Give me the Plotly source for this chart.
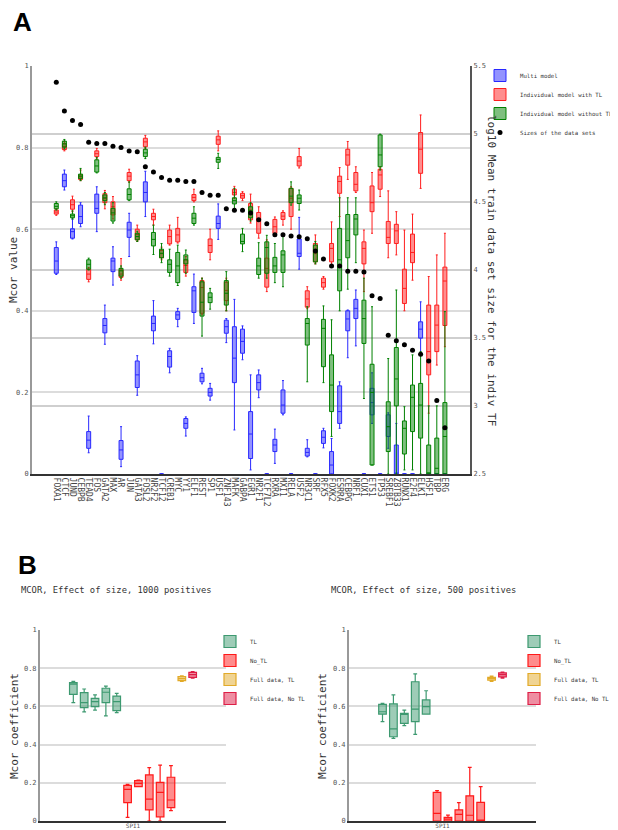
import plotly.graph_objects as go

# The page body adds an 8px margin, so the figure is sized to the visible area
OFF = 8
W, H = 618 - OFF, 830 - OFF
MONO = "DejaVu Sans Mono"

# ---------------- Panel A data ----------------
categories = ["FOXA1", "CTCF", "JUND", "CEBPB", "TEAD4", "FOS", "GATA2", "MAX", "AR", "JUN",
              "GATA3", "FOSL2", "NR2F2", "TCF12", "CREB1", "MYC", "YY1", "ELF1", "REST", "SP1",
              "USF1", "ZNF143", "MAFK", "GABPA", "EGR1", "NR2F1", "TCF7L2", "RXRA", "MXI1", "RELA",
              "USF2", "NR3C1", "SRF", "RFX5", "FOXK2", "ESRRA", "CEBPG", "NRF1", "CUX1", "ETS1",
              "TP53", "SREBF1", "ZBTB33", "RUNX1", "E2F4", "ELK1", "HSF1", "TBP", "ERG"]

# (lower whisker, q1, median, q3, upper whisker) per category
multi_stats = [
    (0.489, 0.492, 0.522, 0.555, 0.569), (0.696, 0.704, 0.719, 0.735, 0.745), (0.576, 0.578, 0.594, 0.601, 0.625),
    (0.606, 0.614, 0.631, 0.659, 0.665), (0.052, 0.063, 0.083, 0.104, 0.142), (0.594, 0.639, 0.651, 0.686, 0.704),
    (0.318, 0.346, 0.364, 0.381, 0.414), (0.463, 0.496, 0.522, 0.529, 0.557), (0.018, 0.036, 0.059, 0.082, 0.116),
    (0.533, 0.580, 0.598, 0.617, 0.639), (0.193, 0.212, 0.243, 0.277, 0.290), (0.631, 0.667, 0.690, 0.716, 0.742),
    (0.319, 0.351, 0.369, 0.387, 0.425), (0, 0, 0, 0, 0), (0.248, 0.262, 0.288, 0.302, 0.308),
    (0.361, 0.379, 0.390, 0.398, 0.406), (0.093, 0.112, 0.124, 0.136, 0.140), (0.369, 0.396, 0.449, 0.459, 0.490),
    (0.221, 0.226, 0.236, 0.247, 0.259), (0.181, 0.191, 0.200, 0.210, 0.222), (0.575, 0.602, 0.614, 0.632, 0.662),
    (0.322, 0.345, 0.361, 0.377, 0.381), (0.108, 0.224, 0.284, 0.361, 0.428), (0.280, 0.296, 0.325, 0.355, 0.363),
    (0.010, 0.038, 0.098, 0.153, 0.243), (0.187, 0.206, 0.224, 0.243, 0.255), (0, 0, 0, 0, 0),
    (0.026, 0.055, 0.071, 0.085, 0.110), (0.145, 0.149, 0.169, 0.206, 0.229), (0, 0, 0, 0, 0),
    (0.502, 0.533, 0.541, 0.576, 0.629), (0.042, 0.044, 0.053, 0.063, 0.084), (0, 0, 0, 0, 0),
    (0.064, 0.075, 0.090, 0.106, 0.112), (0, 0, 0.022, 0.055, 0.087), (0.112, 0.124, 0.153, 0.216, 0.226),
    (0.285, 0.351, 0.380, 0.400, 0.402), (0.314, 0.381, 0.406, 0.428, 0.451), (0, 0, 0, 0, 0),
    (0.124, 0.145, 0.175, 0.210, 0.248), (0, 0, 0, 0, 0), (0.063, 0.092, 0.116, 0.145, 0.150),
    (0, 0, 0, 0.071, 0.124), (0, 0, 0, 0, 0), (0, 0, 0, 0, 0),
    (0.296, 0.333, 0.355, 0.373, 0.422), (0, 0, 0, 0, 0), (0, 0, 0, 0, 0), (0, 0, 0, 0, 0),
]

with_tl_stats = [
    (0.634, 0.637, 0.642, 0.647, 0.650), (0.792, 0.795, 0.803, 0.810, 0.815), (0.643, 0.649, 0.660, 0.672, 0.681),
    (0.719, 0.722, 0.728, 0.733, 0.745), (0.471, 0.477, 0.490, 0.502, 0.506), (0.772, 0.778, 0.785, 0.792, 0.798),
    (0.650, 0.665, 0.675, 0.687, 0.695), (0.625, 0.635, 0.655, 0.667, 0.680), (0.475, 0.482, 0.490, 0.500, 0.528),
    (0.715, 0.719, 0.730, 0.739, 0.747), (0.570, 0.574, 0.587, 0.600, 0.610), (0.797, 0.802, 0.814, 0.823, 0.830),
    (0.610, 0.623, 0.631, 0.639, 0.649), (0.525, 0.530, 0.540, 0.548, 0.556), (0.561, 0.564, 0.582, 0.598, 0.610),
    (0.566, 0.569, 0.586, 0.602, 0.629), (0.485, 0.494, 0.511, 0.525, 0.533), (0.667, 0.670, 0.678, 0.685, 0.698),
    (0.390, 0.394, 0.457, 0.474, 0.480), (0.525, 0.543, 0.560, 0.576, 0.600), (0.792, 0.808, 0.819, 0.828, 0.841),
    (0.400, 0.425, 0.450, 0.470, 0.480), (0.675, 0.684, 0.690, 0.698, 0.705), (0.670, 0.676, 0.682, 0.688, 0.692),
    (0.615, 0.623, 0.647, 0.663, 0.686), (0.578, 0.590, 0.624, 0.641, 0.655), (0.447, 0.458, 0.504, 0.529, 0.574),
    (0.585, 0.590, 0.606, 0.624, 0.630), (0.610, 0.624, 0.632, 0.641, 0.645), (0.600, 0.631, 0.676, 0.700, 0.704),
    (0.750, 0.755, 0.767, 0.778, 0.798), (0.405, 0.409, 0.429, 0.449, 0.459), (0.515, 0.520, 0.540, 0.565, 0.586),
    (0.453, 0.458, 0.469, 0.480, 0.484), (0.510, 0.520, 0.553, 0.565, 0.618), (0.631, 0.688, 0.717, 0.730, 0.751),
    (0.722, 0.757, 0.782, 0.796, 0.815), (0.690, 0.694, 0.710, 0.739, 0.753), (0.447, 0.515, 0.553, 0.569, 0.598),
    (0.590, 0.643, 0.665, 0.706, 0.739), (0.680, 0.698, 0.733, 0.747, 0.753), (0.530, 0.565, 0.580, 0.619, 0.694),
    (0.537, 0.565, 0.596, 0.612, 0.643), (0.400, 0.418, 0.455, 0.502, 0.598), (0.475, 0.518, 0.543, 0.588, 0.637),
    (0.700, 0.737, 0.796, 0.837, 0.880), (0.149, 0.243, 0.300, 0.414, 0.484), (0.267, 0.300, 0.365, 0.414, 0.537),
    (0.312, 0.364, 0.473, 0.507, 0.590),
]

without_tl_stats = [
    (0.647, 0.650, 0.656, 0.663, 0.667), (0.797, 0.801, 0.809, 0.816, 0.820), (0.625, 0.628, 0.633, 0.637, 0.645),
    (0.719, 0.724, 0.730, 0.735, 0.749), (0.500, 0.502, 0.514, 0.525, 0.529), (0.738, 0.740, 0.755, 0.770, 0.776),
    (0.660, 0.670, 0.677, 0.684, 0.690), (0.615, 0.620, 0.640, 0.651, 0.665), (0.480, 0.485, 0.498, 0.504, 0.510),
    (0.670, 0.672, 0.685, 0.699, 0.716), (0.570, 0.574, 0.582, 0.590, 0.595), (0.773, 0.778, 0.787, 0.796, 0.801),
    (0.538, 0.559, 0.575, 0.592, 0.610), (0.518, 0.530, 0.541, 0.551, 0.565), (0.485, 0.494, 0.514, 0.525, 0.551),
    (0.462, 0.469, 0.510, 0.543, 0.561), (0.492, 0.515, 0.525, 0.537, 0.549), (0.610, 0.614, 0.627, 0.639, 0.655),
    (0.338, 0.387, 0.421, 0.471, 0.480), (0.404, 0.420, 0.433, 0.444, 0.455), (0.749, 0.764, 0.771, 0.776, 0.786),
    (0.400, 0.414, 0.443, 0.474, 0.496), (0.650, 0.662, 0.670, 0.677, 0.700), (0.545, 0.564, 0.570, 0.588, 0.602),
    (0.620, 0.628, 0.645, 0.655, 0.665), (0.480, 0.489, 0.510, 0.529, 0.567), (0.480, 0.492, 0.555, 0.569, 0.585),
    (0.469, 0.494, 0.510, 0.531, 0.565), (0.459, 0.494, 0.537, 0.547, 0.588), (0.659, 0.665, 0.681, 0.700, 0.716),
    (0.647, 0.663, 0.676, 0.684, 0.696), (0.226, 0.316, 0.369, 0.381, 0.410), (0.515, 0.520, 0.547, 0.561, 0.570),
    (0.224, 0.263, 0.357, 0.379, 0.412), (0.092, 0.153, 0.218, 0.292, 0.378), (0.400, 0.449, 0.525, 0.602, 0.677),
    (0.453, 0.530, 0.572, 0.636, 0.677), (0.518, 0.586, 0.625, 0.636, 0.677), (0.185, 0.320, 0.381, 0.426, 0.480),
    (0.022, 0.022, 0.200, 0.269, 0.410), (0.745, 0.753, 0.782, 0.831, 0.833), (0, 0.055, 0.116, 0.177, 0.283),
    (0, 0.167, 0.233, 0.310, 0.451), (0.010, 0.049, 0.112, 0.130, 0.165), (0.010, 0.104, 0.188, 0.218, 0.292),
    (0, 0.088, 0.169, 0.222, 0.300), (0, 0, 0.003, 0.071, 0.167), (0, 0, 0.014, 0.088, 0.167),
    (0, 0, 0.092, 0.175, 0.398),
]

dataset_sizes_log10 = [5.38, 5.17, 5.10, 5.07, 4.94, 4.93, 4.93, 4.91, 4.90, 4.875, 4.87, 4.76, 4.72, 4.68,
                       4.66, 4.66, 4.65, 4.65, 4.57, 4.55, 4.55, 4.45, 4.44, 4.44, 4.42, 4.37, 4.34, 4.26,
                       4.26, 4.25, 4.245, 4.23, 4.14, 4.08, 4.03, 4.03, 3.99, 3.99, 3.985, 3.81, 3.79, 3.52,
                       3.48, 3.45, 3.41, 3.38, 3.33, 3.04, 2.84]

left_ticks = [0, 0.2, 0.4, 0.6, 0.8, 1]
left_ticktext = ["0", "0.2", "0.4", "0.6", "0.8", "1"]
right_ticks = [2.5, 3, 3.5, 4, 4.5, 5, 5.5]
right_ticktext = ["2.5", "3", "3.5", "4", "4.5", "5", "5.5"]

# ---------------- Panel B data ----------------
b_category = "SPI1"
b_groups = ["TL", "TL", "TL", "TL", "TL", "No_TL", "No_TL", "No_TL", "No_TL", "No_TL",
            "Full data, TL", "Full data, No TL"]
b1000_stats = [
    (0.620, 0.663, 0.717, 0.724, 0.731), (0.571, 0.594, 0.620, 0.672, 0.691), (0.581, 0.599, 0.625, 0.642, 0.660),
    (0.550, 0.620, 0.674, 0.695, 0.706), (0.567, 0.578, 0.625, 0.654, 0.668),
    (0.019, 0.096, 0.166, 0.187, 0.192), (0.180, 0.180, 0.197, 0.211, 0.214), (0.0, 0.058, 0.115, 0.241, 0.279),
    (0.0, 0.022, 0.150, 0.202, 0.293), (0.054, 0.070, 0.110, 0.229, 0.290),
    (0.731, 0.735, 0.745, 0.756, 0.760), (0.748, 0.752, 0.766, 0.778, 0.782),
]
b500_stats = [
    (0.520, 0.560, 0.572, 0.611, 0.616), (0.433, 0.441, 0.482, 0.613, 0.660), (0.499, 0.511, 0.558, 0.564, 0.581),
    (0.454, 0.520, 0.586, 0.729, 0.770), (0.560, 0.560, 0.599, 0.634, 0.682),
    (0.0, 0.0, 0.040, 0.150, 0.159), (0.0, 0.0, 0.010, 0.019, 0.031), (0.0, 0.0, 0.035, 0.058, 0.096),
    (0.0, 0.0, 0.030, 0.132, 0.281), (0.0, 0.0, 0.0, 0.098, 0.180),
    (0.731, 0.737, 0.745, 0.752, 0.758), (0.748, 0.755, 0.766, 0.775, 0.780),
]
b_ticks = [0, 0.2, 0.4, 0.6, 0.8, 1]
b_ticktext = ["0", "0.2", "0.4", "0.6", "0.8", "1"]

# ---------------- styles ----------------
A_COLORS = {"Multi model": "rgb(40,40,255)",
            "Individual model with TL": "rgb(255,30,30)",
            "Individual model without TL": "rgb(0,128,0)"}
B_COLORS = {"TL": "#3D9970", "No_TL": "rgb(255,25,25)",
            "Full data, TL": "rgb(226,170,40)", "Full data, No TL": "rgb(222,30,70)"}


def px_x(p):
    return (p - OFF) / W


def px_y(p):
    return 1 - (p - OFF) / H


def unpack(stats):
    return ([s[0] for s in stats], [s[1] for s in stats], [s[2] for s in stats],
            [s[3] for s in stats], [s[4] for s in stats])


fig = go.Figure()

for name, stats in [("Multi model", multi_stats),
                    ("Individual model with TL", with_tl_stats),
                    ("Individual model without TL", without_tl_stats)]:
    lo, q1, med, q3, hi = unpack(stats)
    fig.add_trace(go.Box(
        name=name, x=categories, lowerfence=lo, q1=q1, median=med, q3=q3, upperfence=hi,
        marker_color=A_COLORS[name], line=dict(color=A_COLORS[name], width=1),
        offsetgroup="A", alignmentgroup="A", xaxis="x", yaxis="y", legend="legend",
        whiskerwidth=0.5, hoverinfo="skip"))

fig.add_trace(go.Scatter(
    name="Sizes of the data sets", x=categories, y=dataset_sizes_log10, mode="markers",
    marker=dict(color="black", size=5), xaxis="x", yaxis="y2", legend="legend"))

for stats, xa, ya, leg in [(b1000_stats, "x2", "y3", "legend2"), (b500_stats, "x3", "y4", "legend3")]:
    first_seen = set()
    for i, (grp, s) in enumerate(zip(b_groups, stats)):
        show = grp not in first_seen
        first_seen.add(grp)
        fig.add_trace(go.Box(
            name=grp, x=[b_category], lowerfence=[s[0]], q1=[s[1]], median=[s[2]], q3=[s[3]],
            upperfence=[s[4]], marker_color=B_COLORS[grp], line=dict(color=B_COLORS[grp], width=1.2),
            offsetgroup=f"{xa}_{i}", alignmentgroup=xa, legendgroup=grp, showlegend=show,
            xaxis=xa, yaxis=ya, legend=leg, hoverinfo="skip"))

tickfont = dict(family=MONO, size=7, color="#555")
grid_light = "#dcdcdc"
legend_font = dict(family=MONO, size=5.7, color="#333")
b_xfont = dict(family=MONO, size=6, color="#555")

fig.update_layout(
    width=W, height=H, autosize=False,
    margin=dict(l=0, r=0, t=0, b=0, pad=0, autoexpand=False),
    paper_bgcolor="white", plot_bgcolor="white",
    boxmode="group", boxgap=0.3, boxgroupgap=0.3,
    font=dict(family=MONO, color="#333"),
    xaxis=dict(domain=[px_x(32), px_x(470)], anchor="y", type="category",
               categoryorder="array", categoryarray=categories, range=[-3, 51.1],
               tickmode="linear", tick0=0, dtick=1,
               tickangle=90, tickfont=dict(family=MONO, size=8, color="#444"),
               showline=True, linecolor="#333", linewidth=2, showgrid=False, ticks="",
               zeroline=False, automargin=False),
    yaxis=dict(domain=[px_y(474), px_y(66)], anchor="x", range=[0, 1],
               tickvals=left_ticks, ticktext=left_ticktext, tickfont=tickfont,
               showgrid=True, gridcolor=grid_light, gridwidth=1.5,
               showline=True, linecolor="#999", linewidth=2, zeroline=False, ticks="",
               automargin=False),
    yaxis2=dict(overlaying="y", side="right", anchor="x", range=[2.5, 5.5],
                tickvals=right_ticks, ticktext=right_ticktext, tickfont=tickfont,
                showgrid=True, gridcolor="#cfcfcf", gridwidth=1.5,
                showline=True, linecolor="#555", linewidth=2, zeroline=False, ticks="",
                automargin=False),
    xaxis2=dict(domain=[px_x(40), px_x(226)], anchor="y3", type="category", range=[-0.5, 0.5],
                tickfont=b_xfont, showline=True, linecolor="#333", linewidth=2,
                showgrid=False, ticks="", zeroline=False, automargin=False,
                ticklabelstandoff=-2),
    yaxis3=dict(domain=[px_y(821), px_y(630)], anchor="x2", range=[0, 1],
                tickvals=b_ticks, ticktext=b_ticktext, tickfont=tickfont,
                showgrid=True, gridcolor=grid_light, gridwidth=1.5,
                showline=True, linecolor="#999", linewidth=2, zeroline=False, ticks="",
                automargin=False),
    xaxis3=dict(domain=[px_x(349), px_x(536)], anchor="y4", type="category", range=[-0.5, 0.5],
                tickfont=b_xfont, showline=True, linecolor="#333", linewidth=2,
                showgrid=False, ticks="", zeroline=False, automargin=False,
                ticklabelstandoff=-2),
    yaxis4=dict(domain=[px_y(821), px_y(630)], anchor="x3", range=[0, 1],
                tickvals=b_ticks, ticktext=b_ticktext, tickfont=tickfont,
                showgrid=True, gridcolor=grid_light, gridwidth=1.5,
                showline=True, linecolor="#999", linewidth=2, zeroline=False, ticks="",
                automargin=False),
    legend=dict(x=px_x(480), y=px_y(61), xanchor="left", yanchor="top",
                font=legend_font, bgcolor="rgba(0,0,0,0)", tracegroupgap=0),
    legend2=dict(x=px_x(210), y=px_y(627), xanchor="left", yanchor="top",
                 font=legend_font, bgcolor="rgba(0,0,0,0)", tracegroupgap=0),
    legend3=dict(x=px_x(514), y=px_y(627), xanchor="left", yanchor="top",
                 font=legend_font, bgcolor="rgba(0,0,0,0)", tracegroupgap=0),
    showlegend=True,
)

annotations = [
    dict(text="<b>A</b>", x=px_x(11), y=px_y(22), xanchor="left", yanchor="middle",
         font=dict(family="Liberation Sans", size=26, color="black")),
    dict(text="<b>B</b>", x=px_x(16), y=px_y(565), xanchor="left", yanchor="middle",
         font=dict(family="Liberation Sans", size=26, color="black")),
    dict(text="Mcor value", x=px_x(14), y=px_y(270), textangle=-90, xanchor="center", yanchor="middle",
         font=dict(family=MONO, size=11, color="#333")),
    dict(text="log10 Mean train data set size for the indiv TF", x=px_x(491), y=px_y(270),
         textangle=90, xanchor="center", yanchor="middle",
         font=dict(family=MONO, size=11, color="#333")),
    dict(text="MCOR, Effect of size, 1000 positives", x=px_x(19), y=px_y(590),
         xanchor="left", yanchor="middle", font=dict(family=MONO, size=8.8, color="#333")),
    dict(text="MCOR, Effect of size, 500 positives", x=px_x(329), y=px_y(590),
         xanchor="left", yanchor="middle", font=dict(family=MONO, size=8.8, color="#333")),
    dict(text="Mcor coefficient", x=px_x(14), y=px_y(726), textangle=-90,
         xanchor="center", yanchor="middle", font=dict(family=MONO, size=11, color="#333")),
    dict(text="Mcor coefficient", x=px_x(322), y=px_y(726), textangle=-90,
         xanchor="center", yanchor="middle", font=dict(family=MONO, size=11, color="#333")),
]
for a in annotations:
    a.update(xref="paper", yref="paper", showarrow=False)
fig.update_layout(annotations=annotations)

fig.write_html("out.html")
